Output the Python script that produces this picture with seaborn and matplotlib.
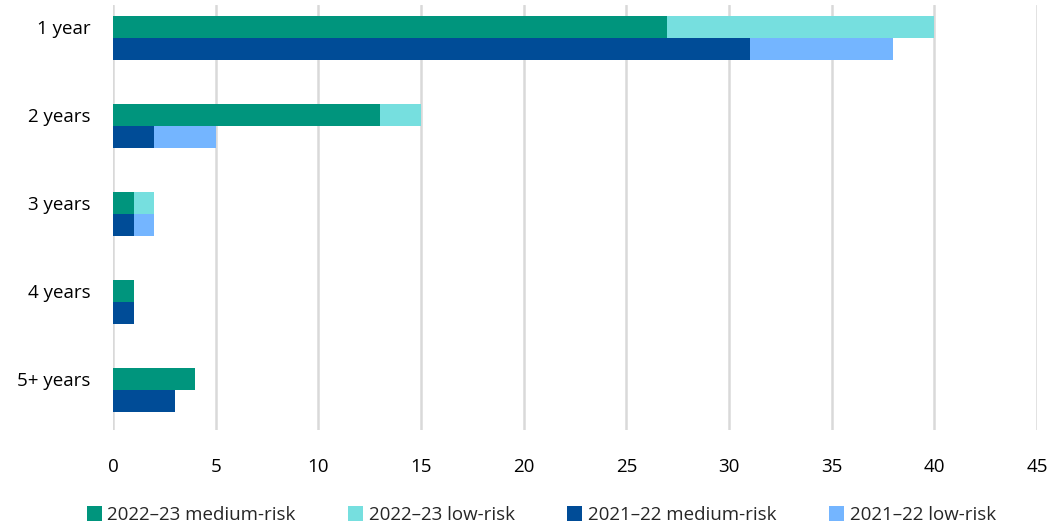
import numpy as np
import pandas as pd
import seaborn as sns
import matplotlib
matplotlib.use("Agg")
import matplotlib.pyplot as plt
from matplotlib.patches import Patch

categories = ["1 year", "2 years", "3 years", "4 years", "5+ years"]
med_2223 = [27, 13, 1, 1, 4]
low_2223 = [13, 2, 1, 0, 0]
med_2122 = [31, 2, 1, 1, 3]
low_2122 = [7, 3, 1, 0, 0]
series_labels = ["2022\u201323 medium-risk", "2022\u201323 low-risk",
                 "2021\u201322 medium-risk", "2021\u201322 low-risk"]
colors = ["#00957D", "#76DFDF", "#004C97", "#74B5FF"]

sns.set_theme(style="white")
plt.rcParams['font.family'] = ['Open Sans', 'DejaVu Sans']

fig = plt.figure(figsize=(10.51, 5.25), dpi=100)
ax = fig.add_axes([113/1051, 1-430/525, (1037-113)/1051, 425/525])

pos = np.arange(len(categories))
h = 0.25
tot_2223 = np.array(med_2223) + np.array(low_2223)
tot_2122 = np.array(med_2122) + np.array(low_2122)

kw = dict(height=h, linewidth=0)
ax.barh(pos - h/2, tot_2223, color=colors[1], zorder=3, **kw)
ax.barh(pos - h/2, med_2223, color=colors[0], zorder=4, **kw)
ax.barh(pos + h/2, tot_2122, color=colors[3], zorder=3, **kw)
ax.barh(pos + h/2, med_2122, color=colors[2], zorder=4, **kw)

ax.set_xlim(0, 45)
ax.set_ylim(4.455, -0.375)
ax.set_xticks(np.arange(0, 46, 5))
ax.set_yticks(pos - h/2)
ax.set_yticklabels(categories)
ax.tick_params(axis='both', labelsize=13.5, colors='#000000', length=0)
ax.tick_params(axis='x', pad=20)
ax.tick_params(axis='y', pad=16)
ax.xaxis.grid(True, color='#D9D9D9', linewidth=1.8, zorder=0)
sns.despine(ax=ax, left=True, bottom=True, top=True, right=True)

handles = [Patch(facecolor=c, linewidth=0) for c in colors]
fig.legend(handles, series_labels, loc='center', bbox_to_anchor=(0.515, 1-515/525),
           ncol=4, frameon=False, fontsize=13.5, handlelength=0.8, handleheight=0.8,
           handletextpad=0.3, columnspacing=2.8)

fig.savefig("out.png", dpi=100)
